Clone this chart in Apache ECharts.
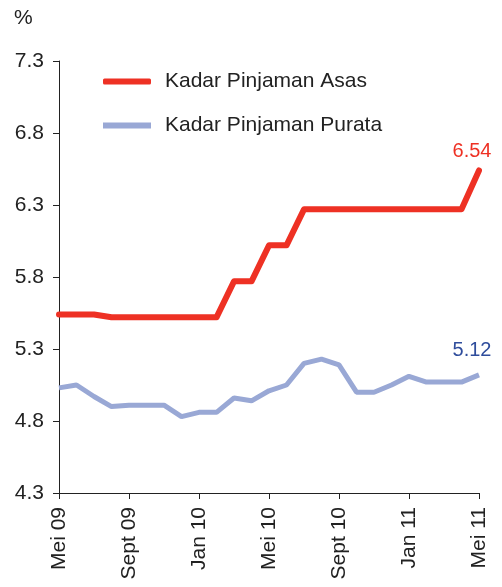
<!DOCTYPE html>
<html>
<head>
<meta charset="utf-8">
<script src="https://cdn.jsdelivr.net/npm/echarts@6/dist/echarts.min.js"></script>
<style>
  html, body { margin: 0; padding: 0; background: #fff; }
  #main { width: 502px; height: 587px; }
</style>
</head>
<body>
<div id="main"></div>
<script>
// bulan (Mei 09 - Mei 11)
var months = ['Mei 09','Jun 09','Jul 09','Ogos 09','Sept 09','Okt 09','Nov 09','Dis 09',
              'Jan 10','Feb 10','Mac 10','Apr 10','Mei 10','Jun 10','Jul 10','Ogos 10',
              'Sept 10','Okt 10','Nov 10','Dis 10','Jan 11','Feb 11','Mac 11','Apr 11','Mei 11'];

// Kadar Pinjaman Asas
var asas = [5.54, 5.54, 5.54, 5.52, 5.52, 5.52, 5.52, 5.52,
            5.52, 5.52, 5.77, 5.77, 6.02, 6.02, 6.27, 6.27,
            6.27, 6.27, 6.27, 6.27, 6.27, 6.27, 6.27, 6.27, 6.54];

// Kadar Pinjaman Purata
var purata = [5.03, 5.05, 4.97, 4.90, 4.91, 4.91, 4.91, 4.83,
              4.86, 4.86, 4.96, 4.94, 5.01, 5.05, 5.20, 5.23,
              5.19, 5.00, 5.00, 5.05, 5.11, 5.07, 5.07, 5.07, 5.12];

var font = 'Liberation Sans, Arial, sans-serif';
var last = months.length - 1;

var myChart = echarts.init(document.getElementById('main'));

var option = {
    animation: false,
    title: {
        text: '%',
        left: 9,
        top: 3,
        textStyle: { fontFamily: font, fontSize: 21, fontWeight: 'normal', color: '#222' }
    },
    legend: {
        orient: 'vertical',
        left: 98,
        top: 66,
        itemWidth: 48,
        itemHeight: 6,
        itemGap: 23,
        textStyle: { fontFamily: font, fontSize: 21, color: '#222', padding: [0, 0, 0, 9] },
        data: [
            { name: 'Kadar Pinjaman Asas', icon: 'roundRect' },
            { name: 'Kadar Pinjaman Purata', icon: 'rect' }
        ]
    },
    grid: { left: 59, right: 23, top: 61, bottom: 94, containLabel: false },
    xAxis: {
        type: 'category',
        boundaryGap: false,
        data: months,
        axisLine: { lineStyle: { color: '#222', width: 1 } },
        axisTick: { interval: 3, length: 6, lineStyle: { color: '#222' } },
        axisLabel: {
            interval: 3,
            rotate: 90,
            margin: 14,
            fontFamily: font,
            fontSize: 21,
            color: '#222'
        },
        splitLine: { show: false }
    },
    yAxis: {
        type: 'value',
        min: 4.3,
        max: 7.3,
        interval: 0.5,
        axisLine: { show: true, lineStyle: { color: '#222', width: 1 } },
        axisTick: { show: true, length: 6, lineStyle: { color: '#222' } },
        axisLabel: {
            margin: 15,
            fontFamily: font,
            fontSize: 21,
            color: '#222',
            formatter: function (v) { return v.toFixed(1); }
        },
        splitLine: { show: false }
    },
    series: [
        {
            name: 'Kadar Pinjaman Asas',
            type: 'line',
            data: asas,
            color: '#EE3124',
            symbol: 'circle',
            symbolSize: 0,
            showSymbol: true,
            lineStyle: { color: '#EE3124', width: 6, cap: 'round', join: 'round' },
            label: {
                show: true,
                position: 'top',
                offset: [-7, -4],
                fontFamily: font,
                fontSize: 20,
                color: '#EE3124',
                formatter: function (p) { return p.dataIndex === last ? p.value.toFixed(2) : ''; }
            }
        },
        {
            name: 'Kadar Pinjaman Purata',
            type: 'line',
            data: purata,
            color: '#99A8D5',
            symbol: 'circle',
            symbolSize: 0,
            showSymbol: true,
            lineStyle: { color: '#99A8D5', width: 5 },
            label: {
                show: true,
                position: 'top',
                offset: [-7, -9],
                fontFamily: font,
                fontSize: 20,
                color: '#2F4D9C',
                formatter: function (p) { return p.dataIndex === last ? p.value.toFixed(2) : ''; }
            }
        }
    ]
};

myChart.setOption(option);
</script>
</body>
</html>
